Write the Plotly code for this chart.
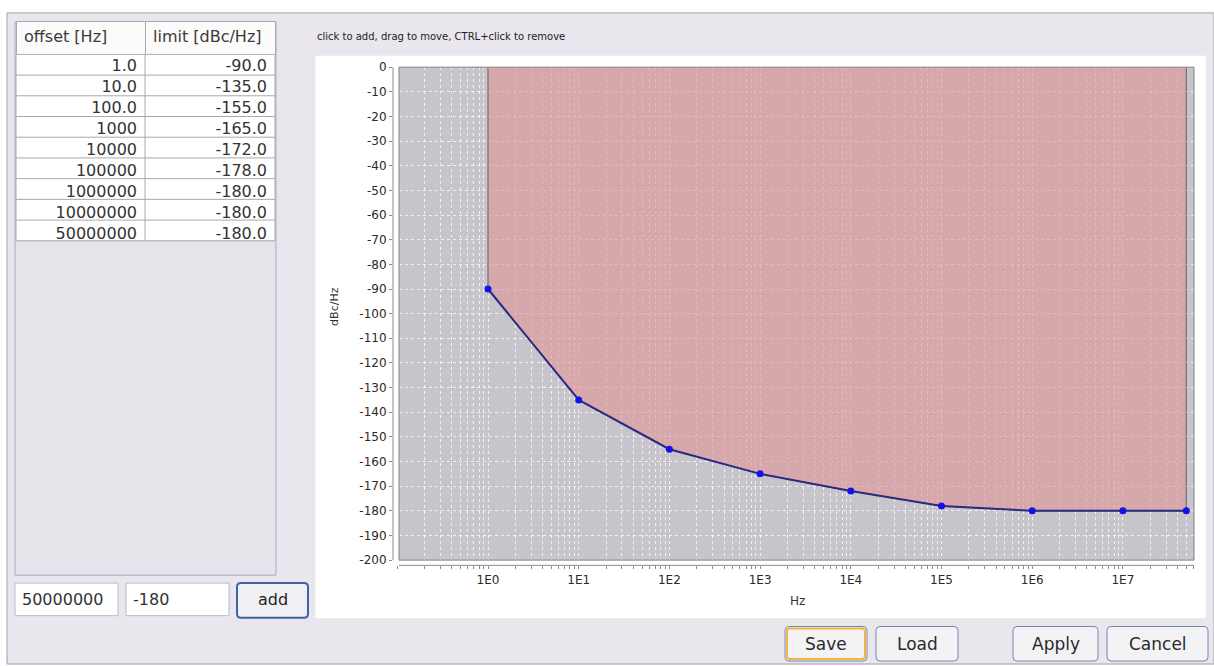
import math
import plotly.graph_objects as go

# ---------------- data ----------------
offsets_hz = [1, 10, 100, 1000, 10000, 100000, 1000000, 10000000, 50000000]
limits_dbc = [-90, -135, -155, -165, -172, -178, -180, -180, -180]
offset_labels = ["1.0", "10.0", "100.0", "1000", "10000", "100000",
                 "1000000", "10000000", "50000000"]
limit_labels = [f"{v:.1f}" for v in limits_dbc]
table_headers = ["offset [Hz]", "limit [dBc/Hz]"]
y_ticks = list(range(0, -201, -10))
x_decades = list(range(-1, 8))
hint_text = "click to add, drag to move, CTRL+click to remove"
button_labels = ["Save", "Load", "Apply", "Cancel"]

# ---------------- geometry helpers ----------------
W, H = 1214, 666


def px(x):
    return x / W


def py(y):
    return 1 - y / H


def rrect(x0, y0, x1, y1, r=4):
    X0, X1 = px(x0), px(x1)
    Y0, Y1 = py(y0), py(y1)
    rx, ry = r / W, r / H
    return (f"M{X0+rx},{Y0} L{X1-rx},{Y0} Q{X1},{Y0} {X1},{Y0-ry} "
            f"L{X1},{Y1+ry} Q{X1},{Y1} {X1-rx},{Y1} L{X0+rx},{Y1} "
            f"Q{X0},{Y1} {X0},{Y1+ry} L{X0},{Y0-ry} Q{X0},{Y0} {X0+rx},{Y0} Z")


BG = "#e9e6ee"
FONT = "DejaVu Sans"
GRIDC = "#a9a9ad"

# plot geometry (pixels)
PL, PR, PT, PB = 399, 1194, 61, 560.7
AX_X, AX_Y = 393, 566
PX_PER_DEC = 90.7
X1_PIX = 488
PX_PER_DB = (PB - PT) / 200.0

x_lo = (AX_X - X1_PIX) / PX_PER_DEC
x_hi = (PR - X1_PIX) / PX_PER_DEC
y_top = 0
y_lo = -200 - (AX_Y - PB) / PX_PER_DB

# table geometry (pixels)
TL, TM, TR = 16, 145, 275
T_TOP, HDR_H, ROW_H = 15, 33, 21
rows_top = T_TOP + HDR_H
rows_bot = rows_top + ROW_H * len(offset_labels)

# ticks
x_tickvals, x_ticktext = [], []
for d in x_decades:
    for k in range(1, 10):
        v = k * 10 ** d
        if math.log10(v) > x_hi + 1e-9:
            continue
        x_tickvals.append(v)
        x_ticktext.append(f"1E{d}" if (k == 1 and d >= 0) else "")

fig = go.Figure()

# red forbidden region above the limit line
fig.add_trace(go.Scatter(
    x=[offsets_hz[0]] + offsets_hz + [offsets_hz[-1]],
    y=[y_top] + limits_dbc + [y_top],
    mode="lines", fill="toself",
    fillcolor="rgba(222,148,152,0.62)",
    line=dict(color="#5e5e5e", width=1),
    hoverinfo="skip", xaxis="x", yaxis="y"))

# limit line
fig.add_trace(go.Scatter(
    x=offsets_hz, y=limits_dbc, mode="lines+markers",
    line=dict(color="#2a2a80", width=2),
    marker=dict(color="#1212e6", size=7),
    xaxis="x", yaxis="y"))

# table header
fig.add_trace(go.Table(
    domain=dict(x=[px(TL), px(TR)], y=[py(rows_top), py(T_TOP)]),
    columnwidth=[TM - TL, TR - TM],
    header=dict(values=table_headers, align=["left", "left"],
                height=HDR_H, fill_color="#fbfbfc",
                line=dict(color=GRIDC, width=1),
                font=dict(family=FONT, size=16, color="#3a3a3a")),
    cells=dict(values=[[], []])))

# table rows (text only; row rules drawn as shapes so text sits centred)
fig.add_trace(go.Table(
    domain=dict(x=[px(TL), px(TR)], y=[py(rows_bot), py(rows_top - 4.5)]),
    columnwidth=[TM - TL, TR - TM],
    header=dict(values=["", ""], height=1, fill_color="rgba(0,0,0,0)",
                line=dict(color="rgba(0,0,0,0)", width=0)),
    cells=dict(values=[offset_labels, limit_labels], align=["right", "right"],
               height=ROW_H, fill_color="rgba(0,0,0,0)",
               line=dict(color="rgba(0,0,0,0)", width=0),
               font=dict(family=FONT, size=16, color="#333333"))))

shapes = []
# window frame
shapes.append(dict(type="rect", xref="paper", yref="paper", x0=px(7), x1=px(1214),
                   y0=py(666), y1=py(6), fillcolor=BG,
                   line=dict(color="#a0a0a8", width=1), layer="below"))
# table pane
shapes.append(dict(type="rect", xref="paper", yref="paper", x0=px(15), x1=px(276),
                   y0=py(576), y1=py(15), fillcolor="#e6e3ea",
                   line=dict(color="#9fb0c8", width=1), layer="below"))
# table row area + rules
shapes.append(dict(type="rect", xref="paper", yref="paper", x0=px(TL), x1=px(TR),
                   y0=py(rows_bot), y1=py(rows_top), fillcolor="#ffffff",
                   line=dict(color=GRIDC, width=1), layer="below"))
for i in range(1, len(offset_labels)):
    yy = rows_top + ROW_H * i
    shapes.append(dict(type="line", xref="paper", yref="paper", x0=px(TL), x1=px(TR),
                       y0=py(yy), y1=py(yy), line=dict(color=GRIDC, width=1),
                       layer="below"))
shapes.append(dict(type="line", xref="paper", yref="paper", x0=px(TM), x1=px(TM),
                   y0=py(rows_bot), y1=py(rows_top), line=dict(color=GRIDC, width=1),
                   layer="below"))
# white chart panel
shapes.append(dict(type="rect", xref="paper", yref="paper", x0=px(315), x1=px(1206),
                   y0=py(620), y1=py(49), fillcolor="#ffffff",
                   line=dict(color="#ececf0", width=1), layer="below"))
# grey plot area
shapes.append(dict(type="rect", xref="paper", yref="paper", x0=px(PL), x1=px(PR),
                   y0=py(PB), y1=py(PT), fillcolor="#c7c5cb",
                   line=dict(width=0), layer="below"))
# plot border
shapes.append(dict(type="rect", xref="paper", yref="paper", x0=px(PL), x1=px(PR),
                   y0=py(PB), y1=py(PT), line=dict(color="#808080", width=1),
                   layer="above"))
# axis lines (offset from plot)
shapes.append(dict(type="line", xref="paper", yref="paper", x0=px(PL), x1=px(PR),
                   y0=py(AX_Y), y1=py(AX_Y), line=dict(color="#8a8a8a", width=1)))
shapes.append(dict(type="line", xref="paper", yref="paper", x0=px(AX_X), x1=px(AX_X),
                   y0=py(PB), y1=py(PT), line=dict(color="#8a8a8a", width=1)))
# input boxes
for (a, b) in [(15, 118), (126, 229)]:
    shapes.append(dict(type="rect", xref="paper", yref="paper", x0=px(a), x1=px(b),
                       y0=py(617), y1=py(584), fillcolor="#ffffff",
                       line=dict(color="#b4bccb", width=1)))
# add button
shapes.append(dict(type="path", xref="paper", yref="paper",
                   path=rrect(237, 584, 308, 619, 4), fillcolor="#f0f0f4",
                   line=dict(color="#3d64a3", width=2)))
# bottom buttons
btn_boxes = [(785, 867), (876, 958), (1013, 1098), (1107, 1208)]
for i, (a, b) in enumerate(btn_boxes):
    shapes.append(dict(type="path", xref="paper", yref="paper",
                       path=rrect(a, 628, b, 663, 4), fillcolor="#f3f3f6",
                       line=dict(color="#7488ab", width=1)))
    if i == 0:
        shapes.append(dict(type="path", xref="paper", yref="paper",
                           path=rrect(a + 2, 630, b - 2, 661, 3),
                           line=dict(color="#f0b545", width=2)))

annotations = []
annotations.append(dict(x=px(315), y=py(30), xref="paper", yref="paper",
                        text=hint_text, showarrow=False, xanchor="left",
                        yanchor="middle",
                        font=dict(family=FONT, size=10, color="#222222")))
annotations.append(dict(x=px(797), y=py(602), xref="paper", yref="paper",
                        text="Hz", showarrow=False, xanchor="center", yanchor="middle",
                        font=dict(family=FONT, size=12, color="#333333")))
annotations.append(dict(x=px(335), y=py(304), xref="paper", yref="paper",
                        text="dBc/Hz", showarrow=False, textangle=-90,
                        xanchor="center", yanchor="middle",
                        font=dict(family=FONT, size=11, color="#333333")))
annotations.append(dict(x=px(20), y=py(601), xref="paper", yref="paper",
                        text=f"{offsets_hz[-1]:.0f}", showarrow=False, xanchor="left",
                        yanchor="middle",
                        font=dict(family=FONT, size=16, color="#333333")))
annotations.append(dict(x=px(131), y=py(601), xref="paper", yref="paper",
                        text=f"{limits_dbc[-1]:.0f}", showarrow=False, xanchor="left",
                        yanchor="middle",
                        font=dict(family=FONT, size=16, color="#333333")))
annotations.append(dict(x=px(272.5), y=py(601), xref="paper", yref="paper",
                        text="add", showarrow=False, xanchor="center", yanchor="middle",
                        font=dict(family=FONT, size=16, color="#222222")))
for (a, b), lab in zip(btn_boxes, button_labels):
    annotations.append(dict(x=px((a + b) / 2), y=py(645.5), xref="paper", yref="paper",
                            text=lab, showarrow=False, xanchor="center",
                            yanchor="middle",
                            font=dict(family=FONT, size=17, color="#2a2a2a")))

fig.update_layout(
    width=W, height=H, margin=dict(l=0, r=0, t=0, b=0),
    paper_bgcolor="#ffffff", plot_bgcolor="rgba(0,0,0,0)",
    showlegend=False, font=dict(family=FONT),
    shapes=shapes, annotations=annotations,
    xaxis=dict(type="log", domain=[px(AX_X), px(PR)], range=[x_lo, x_hi],
               tickvals=x_tickvals, ticktext=x_ticktext,
               ticks="outside", ticklen=3, tickcolor="#8a8a8a", tickwidth=1,
               showgrid=True, gridcolor="rgba(255,255,255,0.75)", griddash="dot",
               gridwidth=1, showline=False, zeroline=False,
               tickfont=dict(family=FONT, size=12, color="#2a2a2a"),
               fixedrange=True),
    yaxis=dict(domain=[py(AX_Y), py(PT)], range=[y_lo, y_top],
               tickvals=y_ticks, ticktext=[str(v) for v in y_ticks],
               ticks="outside", ticklen=3, tickcolor="#8a8a8a", tickwidth=1,
               showgrid=True, gridcolor="rgba(255,255,255,0.75)", griddash="dot",
               gridwidth=1, showline=False, zeroline=False,
               tickfont=dict(family=FONT, size=12, color="#2a2a2a"),
               fixedrange=True),
)

fig.write_html(
    "out.html",
    config={"displayModeBar": False},
    post_script=("document.body.style.margin='0';"
                 "document.body.style.padding='0';"
                 "document.body.style.overflow='hidden';"),
)
